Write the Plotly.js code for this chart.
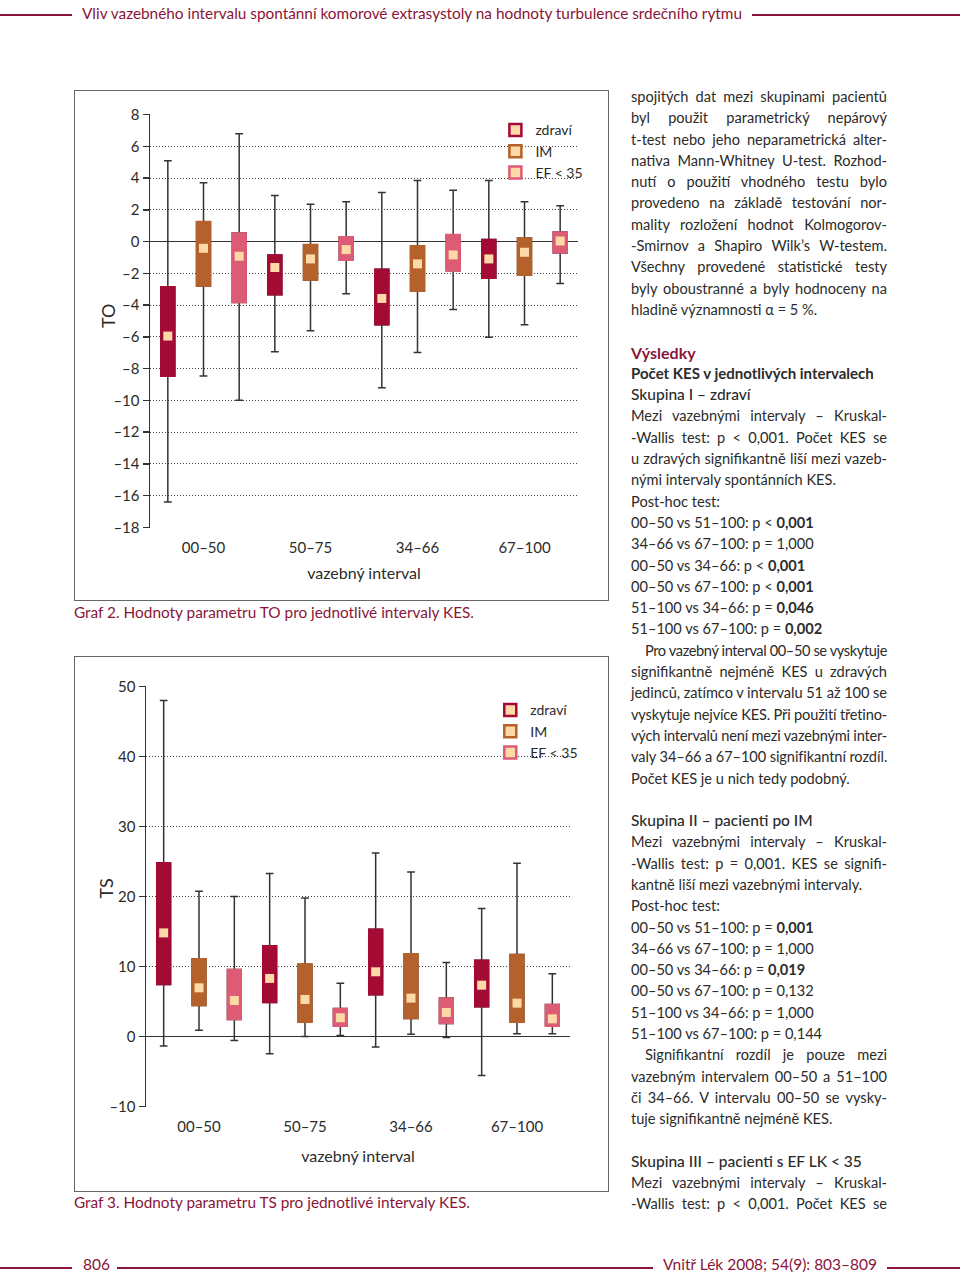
<!DOCTYPE html>
<html><head><meta charset="utf-8">
<script src="https://cdn.plot.ly/plotly-3.0.1.min.js"></script>
<style>
html,body{margin:0;padding:0}
body{width:960px;height:1277px;position:relative;background:#fff;font-family:Lato,"Open Sans",sans-serif;color:#2b2b2b;overflow:hidden}
.rule{position:absolute;height:1.5px;background:#8a1538}
.txt{position:absolute;white-space:nowrap;transform-origin:0 50%}
.red{color:#8a1538}
.frame{position:absolute;border:1.5px solid #666;box-sizing:border-box;pointer-events:none}
.plot{position:absolute}
#col{position:absolute;left:631px;top:86px;width:256px;font-size:14.6px;line-height:21.3px}
#col .ln{height:21.3px;white-space:nowrap;position:relative}
#col .ln span{display:inline-block;white-space:nowrap}
</style>
</head>
<body>
<div class="rule" style="left:0;width:72px;top:14px"></div>
<div class="txt red" id="hdr" style="left:82px;top:3px;font-size:16px;line-height:20px">Vliv vazebného intervalu spontánní komorové extrasystoly na hodnoty turbulence srdečního rytmu</div>
<div class="rule" style="left:752px;width:208px;top:14px"></div>

<div class="plot" id="chart1" style="left:74px;top:90px;width:534px;height:510px"></div>
<div class="frame" style="left:74px;top:90px;width:535px;height:511px"></div>
<div class="txt red" id="cap1" style="left:74px;top:602px;font-size:15.5px;line-height:20px">Graf 2. Hodnoty parametru TO pro jednotlivé intervaly KES.</div>

<div class="plot" id="chart2" style="left:74px;top:656px;width:534px;height:535px"></div>
<div class="frame" style="left:74px;top:656px;width:535px;height:536px"></div>
<div class="txt red" id="cap2" style="left:74px;top:1192px;font-size:15.5px;line-height:20px">Graf 3. Hodnoty parametru TS pro jednotlivé intervaly KES.</div>

<div id="col"></div>

<div class="rule" style="left:0;width:72px;top:1267px"></div>
<div class="txt red" id="pg" style="left:83px;top:1254px;font-size:15.5px;line-height:20px">806</div>
<div class="rule" style="left:117px;width:536px;top:1267px"></div>
<div class="txt red" id="jr" style="left:663px;top:1254px;font-size:15.5px;line-height:20px">Vnitř Lék 2008; 54(9): 803–809</div>
<div class="rule" style="left:887px;width:73px;top:1267px"></div>

<script>
// ---------- data ----------
const categories = ['00–50', '50–75', '34–66', '67–100'];
const seriesNames = ['zdraví', 'IM', 'EF < 35'];

// Graf 2: TO
const toZdraviUpper = [5.1, 2.9, 3.1, 3.85];
const toZdraviQ3    = [-2.85, -0.84, -1.74, 0.13];
const toZdraviMean  = [-5.95, -1.63, -3.58, -1.09];
const toZdraviQ1    = [-8.47, -3.35, -5.24, -2.3];
const toZdraviLower = [-16.4, -6.94, -9.2, -6.03];

const toImUpper = [3.71, 2.35, 3.85, 2.51];
const toImQ3    = [1.26, -0.19, -0.27, 0.23];
const toImMean  = [-0.42, -1.09, -1.4, -0.67];
const toImQ1    = [-2.79, -2.41, -3.12, -2.12];
const toImLower = [-8.47, -5.61, -6.99, -5.24];

const toEfUpper = [6.79, 2.51, 3.23, 2.26];
const toEfQ3    = [0.54, 0.31, 0.44, 0.61];
const toEfMean  = [-0.92, -0.5, -0.84, 0.04];
const toEfQ1    = [-3.83, -1.17, -1.84, -0.71];
const toEfLower = [-10.0, -3.29, -4.27, -2.64];

const toTicks = [8, 6, 4, 2, 0, -2, -4, -6, -8, -10, -12, -14, -16, -18];

// Graf 3: TS
const tsZdraviUpper = [48.0, 23.3, 26.2, 18.3];
const tsZdraviQ3    = [24.8, 12.95, 15.33, 10.9];
const tsZdraviMean  = [14.8, 8.29, 9.24, 7.33];
const tsZdraviQ1    = [7.43, 4.86, 5.95, 4.24];
const tsZdraviLower = [-1.38, -2.48, -1.52, -5.57];

const tsImUpper = [20.76, 19.8, 23.5, 24.75];
const tsImQ3    = [11.1, 10.33, 11.8, 11.71];
const tsImMean  = [6.95, 5.29, 5.48, 4.76];
const tsImQ1    = [4.43, 2.05, 2.57, 2.05];
const tsImLower = [0.9, 0.0, 0.33, 0.38];

const tsEfUpper = [20.0, 7.62, 10.57, 8.95];
const tsEfQ3    = [9.57, 4.0, 5.48, 4.57];
const tsEfMean  = [5.14, 2.67, 3.43, 2.52];
const tsEfQ1    = [2.43, 1.48, 1.86, 1.48];
const tsEfLower = [-0.57, 0.14, -0.14, 0.38];

const tsTicks = [50, 40, 30, 20, 10, 0, -10];

// ---------- styles ----------
const seriesColors = ['#a30a34', '#b5612b', '#dd5b74'];
const meanColor = '#fcd9a6';
const inkColor = '#333333';

function fmt(v) { return v < 0 ? '–' + Math.abs(v) : String(v); }

function buildTraces(stats) {
  const traces = [];
  stats.forEach((st, s) => {
    const xs = categories.map((c, i) => i + (s - 1) / 3);
    traces.push({
      type: 'box', x: xs, q1: st.q1, median: st.mean, q3: st.q3,
      lowerfence: st.lower, upperfence: st.upper,
      width: 0.13, whiskerwidth: 0.56, boxpoints: false,
      line: { color: inkColor, width: 1.5 }, fillcolor: 'rgba(0,0,0,0)',
      hoverinfo: 'skip', showlegend: false
    });
  });
  stats.forEach((st, s) => {
    const xs = categories.map((c, i) => i + (s - 1) / 3);
    traces.push({
      type: 'box', x: xs, q1: st.q1, median: st.mean, q3: st.q3,
      lowerfence: st.q1, upperfence: st.q3,
      width: 0.13, whiskerwidth: 0, boxpoints: false,
      line: { color: seriesColors[s], width: 1.6 }, fillcolor: seriesColors[s],
      hoverinfo: 'skip', showlegend: false
    });
  });
  stats.forEach((st, s) => {
    const xs = categories.map((c, i) => i + (s - 1) / 3);
    traces.push({
      type: 'scatter', mode: 'markers', x: xs, y: st.mean,
      marker: { symbol: 'square', size: 9, color: meanColor, line: { width: 0 } },
      hoverinfo: 'skip', showlegend: false
    });
  });
  seriesNames.forEach((n, s) => {
    traces.push({
      type: 'scatter', mode: 'markers', x: [null], y: [null], name: n,
      marker: { symbol: 'square', size: 12, color: meanColor, line: { color: seriesColors[s], width: 2.5 } }
    });
  });
  return traces;
}

function buildLayout(o) {
  return {
    width: o.w, height: o.h, margin: o.margin,
    paper_bgcolor: 'rgba(0,0,0,0)', plot_bgcolor: 'rgba(0,0,0,0)',
    font: { family: 'Lato, "Open Sans", sans-serif', size: 15, color: '#2b2b2b' },
    showlegend: true, boxmode: 'overlay',
    legend: { x: o.legx, y: o.legy, xanchor: 'left', yanchor: 'top', bgcolor: 'rgba(0,0,0,0)',
              font: { size: 14 }, itemwidth: 30, tracegroupgap: 0 },
    xaxis: { range: [-0.5, 3.5], tickvals: [0, 1, 2, 3], ticktext: categories,
             showgrid: false, zeroline: false, showline: false,
             ticks: 'outside', ticklen: 6, tickcolor: 'rgba(0,0,0,0)',
             title: { text: 'vazebný interval', standoff: o.xstand, font: { size: 16 } }, fixedrange: true },
    yaxis: { range: o.range, tickvals: o.ticks, ticktext: o.ticks.map(fmt),
             showgrid: true, griddash: '1px,2px', gridcolor: '#444', gridwidth: 1,
             zeroline: true, zerolinecolor: inkColor, zerolinewidth: 1.5,
             showline: true, linecolor: inkColor, linewidth: 1.5,
             ticks: 'outside', ticklen: 6, tickwidth: 1.5, tickcolor: inkColor,
             title: { text: '' }, fixedrange: true },
    annotations: [{
      text: o.ytitle, xref: 'paper', yref: 'paper', x: 0, y: o.ytitleY,
      xanchor: 'center', yanchor: 'middle', xshift: o.ytitleShift, textangle: -90,
      showarrow: false, font: { size: 18, color: '#2b2b2b' }
    }]
  };
}

const toStats = [
  { upper: toZdraviUpper, q3: toZdraviQ3, mean: toZdraviMean, q1: toZdraviQ1, lower: toZdraviLower },
  { upper: toImUpper, q3: toImQ3, mean: toImMean, q1: toImQ1, lower: toImLower },
  { upper: toEfUpper, q3: toEfQ3, mean: toEfMean, q1: toEfQ1, lower: toEfLower }
];
const tsStats = [
  { upper: tsZdraviUpper, q3: tsZdraviQ3, mean: tsZdraviMean, q1: tsZdraviQ1, lower: tsZdraviLower },
  { upper: tsImUpper, q3: tsImQ3, mean: tsImMean, q1: tsImQ1, lower: tsImLower },
  { upper: tsEfUpper, q3: tsEfQ3, mean: tsEfMean, q1: tsEfQ1, lower: tsEfLower }
];

Plotly.newPlot('chart1', buildTraces(toStats), buildLayout({
  w: 534, h: 510, margin: { l: 76, r: 30, t: 24, b: 72 }, range: [-18.04, 8.04], ticks: toTicks,
  ytitle: 'TO', ytitleY: 0.512, ytitleShift: -42, legx: 0.807, legy: 0.999, xstand: 12
}), { staticPlot: true });

Plotly.newPlot('chart2', buildTraces(tsStats), buildLayout({
  w: 534, h: 535, margin: { l: 72, r: 38, t: 30, b: 84 }, range: [-10.08, 50.08], ticks: tsTicks,
  ytitle: 'TS', ytitleY: 0.519, ytitleShift: -40, legx: 0.812, legy: 0.98, xstand: 16
}), { staticPlot: true });

// ---------- right column text ----------
const colLines = [
  ['spojitých dat mezi skupinami pacientů', 'j'],
  ['byl použit parametrický nepárový', 'j'],
  ['t-test nebo jeho neparametrická alter-', 'j'],
  ['nativa Mann-Whitney U-test. Rozhod-', 'j'],
  ['nutí o použití vhodného testu bylo', 'j'],
  ['provedeno na základě testování nor-', 'j'],
  ['mality rozložení hodnot Kolmogorov-', 'j'],
  ['-Smirnov a Shapiro Wilk’s W-testem.', 'j'],
  ['Všechny provedené statistické testy', 'j'],
  ['byly oboustranné a byly hodnoceny na', 'j'],
  ['hladině významnosti α = 5 %.', 'l'],
  ['', 'e'],
  ['Výsledky', 'h1'],
  ['Počet KES v jednotlivých intervalech', 'h2'],
  ['Skupina I – zdraví', 'h3'],
  ['Mezi vazebnými intervaly – Kruskal-', 'j'],
  ['-Wallis test: p &lt; 0,001. Počet KES se', 'j'],
  ['u zdravých signifikantně liší mezi vazeb-', 'j'],
  ['nými intervaly spontánních KES.', 'l'],
  ['Post-hoc test:', 'l'],
  ['00–50 vs 51–100: p &lt; <b>0,001</b>', 'l'],
  ['34–66 vs 67–100: p = 1,000', 'l'],
  ['00–50 vs 34–66: p &lt; <b>0,001</b>', 'l'],
  ['00–50 vs 67–100: p &lt; <b>0,001</b>', 'l'],
  ['51–100 vs 34–66: p = <b>0,046</b>', 'l'],
  ['51–100 vs 67–100: p = <b>0,002</b>', 'l'],
  ['Pro vazebný interval 00–50 se vyskytuje', 'jI'],
  ['signifikantně nejméně KES u zdravých', 'j'],
  ['jedinců, zatímco v intervalu 51 až 100 se', 'j'],
  ['vyskytuje nejvíce KES. Při použití třetino-', 'j'],
  ['vých intervalů není mezi vazebnými inter-', 'j'],
  ['valy 34–66 a 67–100 signifikantní rozdíl.', 'j'],
  ['Počet KES je u nich tedy podobný.', 'l'],
  ['', 'e'],
  ['Skupina II – pacienti po IM', 'h3'],
  ['Mezi vazebnými intervaly – Kruskal-', 'j'],
  ['-Wallis test: p = 0,001. KES se signifi-', 'j'],
  ['kantně liší mezi vazebnými intervaly.', 'l'],
  ['Post-hoc test:', 'l'],
  ['00–50 vs 51–100: p = <b>0,001</b>', 'l'],
  ['34–66 vs 67–100: p = 1,000', 'l'],
  ['00–50 vs 34–66: p = <b>0,019</b>', 'l'],
  ['00–50 vs 67–100: p = 0,132', 'l'],
  ['51–100 vs 34–66: p = 1,000', 'l'],
  ['51–100 vs 67–100: p = 0,144', 'l'],
  ['Signifikantní rozdíl je pouze mezi', 'jI'],
  ['vazebným intervalem 00–50 a 51–100', 'j'],
  ['či 34–66. V intervalu 00–50 se vysky-', 'j'],
  ['tuje signifikantně nejméně KES.', 'l'],
  ['', 'e'],
  ['Skupina III – pacienti s EF LK &lt; 35', 'h3'],
  ['Mezi vazebnými intervaly – Kruskal-', 'j'],
  ['-Wallis test: p &lt; 0,001. Počet KES se', 'j']
];

const col = document.getElementById('col');
const COLW = 256, INDENT = 14;
colLines.forEach(([html, kind]) => {
  const d = document.createElement('div');
  d.className = 'ln';
  const sp = document.createElement('span');
  sp.innerHTML = html;
  if (kind === 'h1') { sp.style.fontWeight = '700'; sp.style.color = '#8a1538'; sp.style.fontSize = '16px'; }
  if (kind === 'h2') { sp.style.fontWeight = '700'; sp.style.fontSize = '15px'; }
  if (kind === 'h3') { sp.style.fontSize = '15.5px'; sp.style.fontWeight = '500'; }
  if (kind === 'jI') d.style.paddingLeft = INDENT + 'px';
  d.appendChild(sp);
  col.appendChild(d);
  const target = kind === 'jI' ? COLW - INDENT : COLW;
  let w = sp.getBoundingClientRect().width;
  const nChars = sp.textContent.length;
  if (w > target) {
    sp.style.letterSpacing = ((target - w) / nChars) + 'px';
    w = sp.getBoundingClientRect().width;
  }
  if (kind === 'j' || kind === 'jI') {
    const nSp = (sp.textContent.match(/ /g) || []).length;
    if (nSp > 0 && w < target) sp.style.wordSpacing = ((target - w) / nSp) + 'px';
  }
});

function fit(id, width) {
  const el = document.getElementById(id);
  const w = el.getBoundingClientRect().width;
  el.style.transform = 'scaleX(' + (width / w) + ')';
}
fit('hdr', 660);
fit('cap1', 400);
fit('cap2', 396);
fit('jr', 214);
</script>
</body></html>
